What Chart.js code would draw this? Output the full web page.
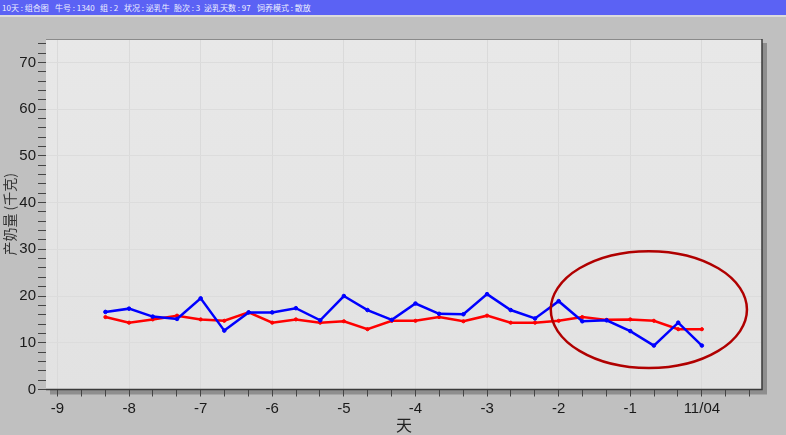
<!DOCTYPE html>
<html>
<head>
<meta charset="utf-8">
<script src="https://cdn.jsdelivr.net/npm/chart.js@4/dist/chart.umd.min.js"></script>
<style>
  html, body { margin: 0; padding: 0; background: #c0c0c0; width: 786px; height: 435px; overflow: hidden; }
  #bar { position: absolute; left: 0; top: 0; width: 786px; height: 15px; background: #5b62f4; color: #eef0ff;
         font-family: "Noto Sans CJK SC", sans-serif; font-size: 8px; line-height: 15px; }
  #bar span { position: absolute; top: 0; white-space: nowrap; }
  #sep { position: absolute; left: 0; top: 15px; width: 786px; height: 2px; background: #dcdcdc; }
  #wrap { position: absolute; left: 0; top: 17px; width: 786px; height: 418px; }
</style>
</head>
<body>
<div id="bar">
  <span style="left:2px">10天 : 组合图</span>
  <span style="left:55px">牛号 : 1340</span>
  <span style="left:100px">组 : 2</span>
  <span style="left:124px">状况 : 泌乳牛</span>
  <span style="left:174px">胎次 : 3</span>
  <span style="left:204px">泌乳天数 : 97</span>
  <span style="left:257px">饲养模式 : 散放</span>
</div>
<div id="sep"></div>
<div id="wrap"><canvas id="c"></canvas></div>
<script>
// ---- data ----
const days = [-8.33, -8, -7.67, -7.33, -7, -6.67, -6.33, -6, -5.67, -5.33, -5, -4.67, -4.33,
              -4, -3.67, -3.33, -3, -2.67, -2.33, -2, -1.67, -1.33, -1, -0.67, -0.33, 0];
const blueYield = [16.6, 17.3, 15.6, 15.1, 19.5, 12.6, 16.5, 16.5, 17.4, 14.8, 20.0, 17.0, 14.9,
                   18.4, 16.2, 16.1, 20.4, 17.0, 15.2, 18.9, 14.6, 14.8, 12.5, 9.4, 14.3, 9.4];
const redYield  = [15.5, 14.3, 15.0, 15.8, 15.0, 14.7, 16.5, 14.3, 15.0, 14.3, 14.6, 12.9, 14.7,
                   14.7, 15.5, 14.6, 15.8, 14.3, 14.3, 14.7, 15.5, 14.9, 15.0, 14.7, 12.9, 12.9];
const xTickLabels = {"-9": "-9", "-8": "-8", "-7": "-7", "-6": "-6", "-5": "-5", "-4": "-4",
                     "-3": "-3", "-2": "-2", "-1": "-1", "0": "11/04"};
const yLabelValues = [0, 10, 20, 30, 40, 50, 60, 70];
const highlight = { cx: -0.74, cy: 17.1, rx: 1.37, ry: 12.5 };

const bluePts = days.map((d, i) => ({ x: d, y: blueYield[i] }));
const redPts  = days.map((d, i) => ({ x: d, y: redYield[i] }));

const isInt = v => Math.abs(v - Math.round(v)) < 1e-6;

const framePlugin = {
  id: 'frame',
  beforeDraw(chart) {
    const { ctx, chartArea: a } = chart;
    ctx.save();
    ctx.fillStyle = '#8e8e8e';
    ctx.fillRect(a.left + 4, a.top + 4, a.right - a.left + 1, a.bottom - a.top + 1);
    const g = ctx.createLinearGradient(0, a.top, 0, a.bottom);
    g.addColorStop(0, '#e8e8e8');
    g.addColorStop(1, '#e2e2e2');
    ctx.fillStyle = g;
    ctx.fillRect(a.left, a.top, a.right - a.left, a.bottom - a.top);
    ctx.restore();
  },
  afterDatasetsDraw(chart) {
    const { ctx, chartArea: a, scales: { x, y } } = chart;
    ctx.save();
    ctx.strokeStyle = '#8a8a8a';
    ctx.lineWidth = 1;
    ctx.beginPath();
    ctx.moveTo(a.left, a.top + 0.5); ctx.lineTo(a.right, a.top + 0.5);
    ctx.stroke();
    ctx.strokeStyle = '#3a3a3a';
    ctx.lineWidth = 1.5;
    ctx.beginPath();
    ctx.moveTo(a.right, a.top); ctx.lineTo(a.right, a.bottom); ctx.lineTo(a.left, a.bottom);
    ctx.stroke();
    const cx = x.getPixelForValue(highlight.cx);
    const cy = y.getPixelForValue(highlight.cy);
    const rx = Math.abs(x.getPixelForValue(highlight.cx + highlight.rx) - cx);
    const ry = Math.abs(y.getPixelForValue(highlight.cy + highlight.ry) - cy);
    ctx.strokeStyle = '#b00000';
    ctx.lineWidth = 2.5;
    ctx.beginPath();
    ctx.ellipse(cx, cy, rx, ry, 0, 0, Math.PI * 2);
    ctx.stroke();
    ctx.restore();
  }
};

new Chart(document.getElementById('c'), {
  type: 'line',
  data: {
    datasets: [
      { data: bluePts, borderColor: '#0000ff', backgroundColor: '#0000ff', borderWidth: 2.5,
        pointRadius: 1.8, pointHoverRadius: 1.8, pointBorderWidth: 1, tension: 0 },
      { data: redPts, borderColor: '#ff0000', backgroundColor: '#ff0000', borderWidth: 2.5,
        pointRadius: 1.6, pointHoverRadius: 1.6, pointBorderWidth: 1, tension: 0 }
    ]
  },
  options: {
    responsive: true,
    maintainAspectRatio: false,
    animation: false,
    events: [],
    layout: { padding: { top: 22, right: 24, bottom: 0, left: 0 } },
    plugins: { legend: { display: false }, tooltip: { enabled: false } },
    scales: {
      x: {
        type: 'linear', min: -9.16, max: 0.84,
        afterBuildTicks(scale) {
          const t = [];
          for (let k = -27; k <= 2; k++) t.push({ value: k / 3 });
          scale.ticks = t;
        },
        afterFit(scale) { scale.height = 45.5; },
        border: { display: false },
        grid: {
          color: c => (c.tick && isInt(c.tick.value)) ? '#dadada' : 'rgba(0,0,0,0)',
          tickColor: '#444', tickLength: 7, lineWidth: 1, drawOnChartArea: true
        },
        ticks: {
          autoSkip: false, maxRotation: 0, padding: 3, color: '#1a1a1a',
          font: { family: 'Liberation Sans', size: 15 },
          callback: v => isInt(v) ? (xTickLabels[String(Math.round(v))] ?? '') : ''
        },
        title: { display: true, text: '天', color: '#222', padding: { top: 0, bottom: 0 },
                 font: { family: 'Noto Sans CJK SC', size: 16 } }
      },
      y: {
        type: 'linear', min: 0, max: 75,
        afterBuildTicks(scale) {
          const t = [];
          for (let v = 0; v <= 74; v += 2) t.push({ value: v });
          scale.ticks = t;
        },
        afterFit(scale) { scale.width = 46; },
        border: { display: false },
        grid: {
          color: c => (c.tick && c.tick.value % 10 === 0 && c.tick.value !== 0) ? '#dcdcdc' : 'rgba(0,0,0,0)',
          tickColor: '#444', tickLength: 8, lineWidth: 1
        },
        ticks: {
          autoSkip: false, padding: 2, color: '#1a1a1a',
          font: { family: 'Liberation Sans', size: 15 },
          callback: v => yLabelValues.includes(v) ? String(v) : ''
        },
        title: { display: true, text: '产奶量 (千克)', color: '#333', padding: { top: 1, bottom: 0 },
                 font: { family: 'Noto Sans CJK SC', size: 14 } }
      }
    }
  },
  plugins: [framePlugin]
});
</script>
</body>
</html>
